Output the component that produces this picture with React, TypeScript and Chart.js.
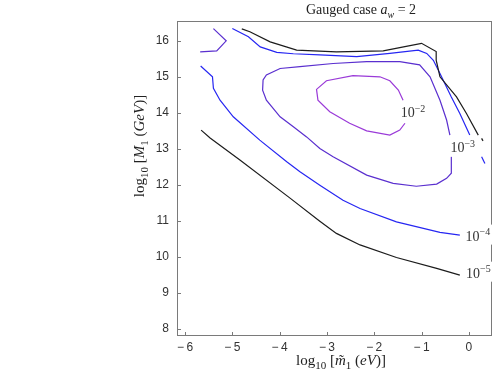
import React, { useEffect, useRef } from "react";
import { Chart, registerables } from "chart.js";

Chart.register(...registerables);

// ---- axis ranges / ticks ----
const xMin = -6.17;
const xMax = 0.49;
const yMin = 7.8;
const yMax = 16.55;
const xTickValues = [-6, -5, -4, -3, -2, -1, 0];
const yTickValues = [8, 9, 10, 11, 12, 13, 14, 15, 16];

// ---- contour 1e-5 (black) ----
const c5LowX = [-5.66, -5.47, -4.84, -3.78, -3.15, -2.8, -2.3, -1.53, -0.68, -0.19];
const c5LowY = [13.52, 13.3, 12.69, 11.63, 10.99, 10.65, 10.33, 9.98, 9.68, 9.49];
const c5UpX = [-4.8, -4.63, -4.2, -3.64, -2.8, -1.81, -1.38, -1.0, -0.69, -0.69, -0.61, -0.26, -0.05, 0.2];
const c5UpY = [16.33, 16.25, 15.97, 15.74, 15.69, 15.72, 15.83, 15.93, 15.7, 15.46, 15.0, 14.44, 13.98, 13.38];
const c5DotX = [0.27, 0.3];
const c5DotY = [13.29, 13.22];

// ---- contour 1e-4 (blue) ----
const c4LowX = [-5.67, -5.42, -5.4, -5.26, -4.98, -4.42, -3.85, -3.57, -3.15, -2.66, -2.3, -1.53, -0.61, -0.19];
const c4LowY = [15.3, 15.0, 14.68, 14.35, 13.89, 13.24, 12.64, 12.36, 11.99, 11.57, 11.34, 10.97, 10.68, 10.6];
const c4UpX = [-5.0, -4.66, -4.41, -4.06, -3.71, -3.15, -2.37, -1.67, -1.07, -0.89, -0.75, -0.61, -0.37, -0.19, 0.02];
const c4UpY = [16.34, 16.11, 15.83, 15.68, 15.64, 15.61, 15.56, 15.65, 15.74, 15.65, 15.46, 15.09, 14.44, 13.98, 13.38];
const c4TailX = [0.27, 0.34];
const c4TailY = [12.78, 12.59];

// ---- contour 1e-3 (blue-violet) ----
const c3CornerX = [-5.4, -5.13, -5.33, -5.68];
const c3CornerY = [16.34, 16.0, 15.72, 15.69];
const c3LoopX = [-0.37, -0.37, -0.47, -0.68, -1.11, -1.6, -2.16, -2.87, -3.15, -3.43, -3.71, -3.99, -4.28, -4.36, -4.35, -4.28, -3.99, -3.57, -2.87, -2.16, -1.46, -1.04, -0.82, -0.61, -0.47, -0.4];
const c3LoopY = [12.78, 12.32, 12.18, 12.02, 11.96, 12.04, 12.27, 12.78, 13.01, 13.33, 13.61, 13.89, 14.35, 14.63, 14.91, 15.05, 15.23, 15.28, 15.37, 15.42, 15.42, 15.33, 15.0, 14.35, 13.8, 13.38];

// ---- contour 1e-2 (violet) ----
const c2LoopX = [-1.35, -1.46, -1.67, -2.16, -2.52, -2.94, -3.19, -3.22, -3.01, -2.45, -1.88, -1.67, -1.49, -1.39];
const c2LoopY = [13.71, 13.52, 13.38, 13.5, 13.71, 14.03, 14.35, 14.65, 14.89, 15.03, 15.0, 14.89, 14.63, 14.35];

// ---- contour labels (exponent, anchor in data coords: left / baseline) ----
const labelExp = ["−2", "−3", "−4", "−5"];
const labelX = [-1.44, -0.39, -0.07, -0.06];
const labelY = [13.87, 12.9, 10.45, 9.42];

const COL_BLACK = "#1c1c1c";
const COL_BLUE = "#2626f2";
const COL_VIOLET3 = "#5a2fcf";
const COL_VIOLET2 = "#9a3ad8";

const SERIF = '"Liberation Serif", "Times New Roman", serif';
const SANS = '"Liberation Sans", Arial, sans-serif';

const zip = (xs: number[], ys: number[]) => xs.map((x, i) => ({ x, y: ys[i] }));

type Seg = { t: string; it?: boolean; sub?: boolean; sup?: boolean };

function segFont(s: Seg, size: number) {
  const sz = s.sub || s.sup ? Math.round(size * 0.7) : size;
  return `${s.it ? "italic " : ""}${sz}px ${SERIF}`;
}

function richWidth(ctx: CanvasRenderingContext2D, segs: Seg[], size: number) {
  let w = 0;
  for (const s of segs) {
    ctx.font = segFont(s, size);
    w += ctx.measureText(s.t).width;
  }
  return w;
}

function drawRich(
  ctx: CanvasRenderingContext2D,
  segs: Seg[],
  x: number,
  y: number,
  size: number,
  center: boolean
) {
  let cx = center ? x - richWidth(ctx, segs, size) / 2 : x;
  ctx.textBaseline = "alphabetic";
  ctx.textAlign = "left";
  for (const s of segs) {
    ctx.font = segFont(s, size);
    const dy = s.sub ? size * 0.28 : s.sup ? -size * 0.42 : 0;
    ctx.fillText(s.t, cx, y + dy);
    cx += ctx.measureText(s.t).width;
  }
  return cx;
}

const decorPlugin = {
  id: "decor",
  beforeDatasetsDraw(chart: any) {
    const { ctx, chartArea: a, scales } = chart;
    ctx.save();
    ctx.strokeStyle = "#7a7a7a";
    ctx.lineWidth = 1;
    ctx.strokeRect(Math.round(a.left) + 0.5, Math.round(a.top) + 0.5, Math.round(a.right - a.left) - 1, Math.round(a.bottom - a.top) - 1);
    ctx.beginPath();
    for (const v of yTickValues) {
      const py = Math.round(scales.y.getPixelForValue(v)) + 0.5;
      ctx.moveTo(a.left, py);
      ctx.lineTo(a.left + 4, py);
    }
    for (const v of xTickValues) {
      const px = Math.round(scales.x.getPixelForValue(v)) + 0.5;
      ctx.moveTo(px, a.bottom);
      ctx.lineTo(px, a.bottom - 4);
    }
    ctx.stroke();
    ctx.restore();
  },
  afterDatasetsDraw(chart: any) {
    const { ctx, scales } = chart;
    ctx.save();
    // contour labels with white backing
    for (let i = 0; i < labelExp.length; i++) {
      const px = scales.x.getPixelForValue(labelX[i]);
      const py = scales.y.getPixelForValue(labelY[i]);
      const segs: Seg[] = [{ t: "10" }, { t: labelExp[i], sup: true }];
      const w = richWidth(ctx, segs, 14);
      ctx.fillStyle = "#ffffff";
      ctx.fillRect(px - 2, py - 16, w + 4, 20);
      ctx.fillStyle = "#333333";
      drawRich(ctx, segs, px, py, 14, false);
    }
    ctx.fillStyle = "#222222";
    // title
    drawRich(
      ctx,
      [{ t: "Gauged case " }, { t: "a", it: true }, { t: "w", it: true, sub: true }, { t: " = 2" }],
      361,
      14,
      14,
      true
    );
    // x title
    drawRich(
      ctx,
      [
        { t: "log" },
        { t: "10", sub: true },
        { t: " [" },
        { t: "m̃", it: true },
        { t: "1", sub: true },
        { t: " (" },
        { t: "eV", it: true },
        { t: ")]" },
      ],
      341,
      365,
      15,
      true
    );
    // y title
    ctx.translate(144, 146);
    ctx.rotate(-Math.PI / 2);
    drawRich(
      ctx,
      [
        { t: "log" },
        { t: "10", sub: true },
        { t: " [" },
        { t: "M", it: true },
        { t: "1", sub: true },
        { t: " (" },
        { t: "GeV", it: true },
        { t: ")]" },
      ],
      0,
      0,
      15,
      true
    );
    ctx.restore();
  },
};

function line(data: { x: number; y: number }[], color: string) {
  return {
    data,
    showLine: true,
    borderColor: color,
    backgroundColor: color,
    borderWidth: 1.2,
    pointRadius: 0,
    pointHoverRadius: 0,
    fill: false,
    tension: 0,
  };
}

export default function App() {
  const ref = useRef<HTMLCanvasElement | null>(null);

  useEffect(() => {
    if (!ref.current) return;
    const chart = new Chart(ref.current, {
      type: "scatter",
      data: {
        datasets: [
          line(zip(c5LowX, c5LowY), COL_BLACK),
          line(zip(c5UpX, c5UpY), COL_BLACK),
          line(zip(c5DotX, c5DotY), COL_BLACK),
          line(zip(c4LowX, c4LowY), COL_BLUE),
          line(zip(c4UpX, c4UpY), COL_BLUE),
          line(zip(c4TailX, c4TailY), COL_BLUE),
          line(zip(c3CornerX, c3CornerY), COL_VIOLET3),
          line(zip(c3LoopX, c3LoopY), COL_VIOLET3),
          line(zip(c2LoopX, c2LoopY), COL_VIOLET2),
        ] as any,
      },
      options: {
        animation: false,
        responsive: false,
        events: [],
        layout: { padding: { left: 0, top: 21, right: 6, bottom: 0 } },
        plugins: {
          legend: { display: false },
          tooltip: { enabled: false },
          title: { display: false },
        },
        scales: {
          x: {
            type: "linear",
            min: xMin,
            max: xMax,
            afterFit: (s: any) => {
              s.height = 37;
            },
            afterBuildTicks: (s: any) => {
              s.ticks = xTickValues.map((v) => ({ value: v }));
            },
            grid: { display: false, drawTicks: false },
            border: { display: false },
            ticks: {
              padding: 4,
              color: "#333333",
              font: { family: SANS, size: 12 },
              callback: (v: any) => (v < 0 ? "−\u2009" + Math.abs(v) : String(v)),
            },
          },
          y: {
            type: "linear",
            min: yMin,
            max: yMax,
            afterFit: (s: any) => {
              s.width = 177;
            },
            afterBuildTicks: (s: any) => {
              s.ticks = yTickValues.map((v) => ({ value: v }));
            },
            grid: { display: false, drawTicks: false },
            border: { display: false },
            ticks: {
              padding: 8,
              color: "#333333",
              font: { family: SANS, size: 12 },
              callback: (v: any) => String(v),
            },
          },
        },
      } as any,
      plugins: [decorPlugin as any],
    });
    return () => chart.destroy();
  }, []);

  return (
    <div style={{ position: "absolute", left: 0, top: 0, width: 498, height: 373, background: "#fff" }}>
      <canvas ref={ref} width={498} height={373} style={{ display: "block" }} />
    </div>
  );
}
